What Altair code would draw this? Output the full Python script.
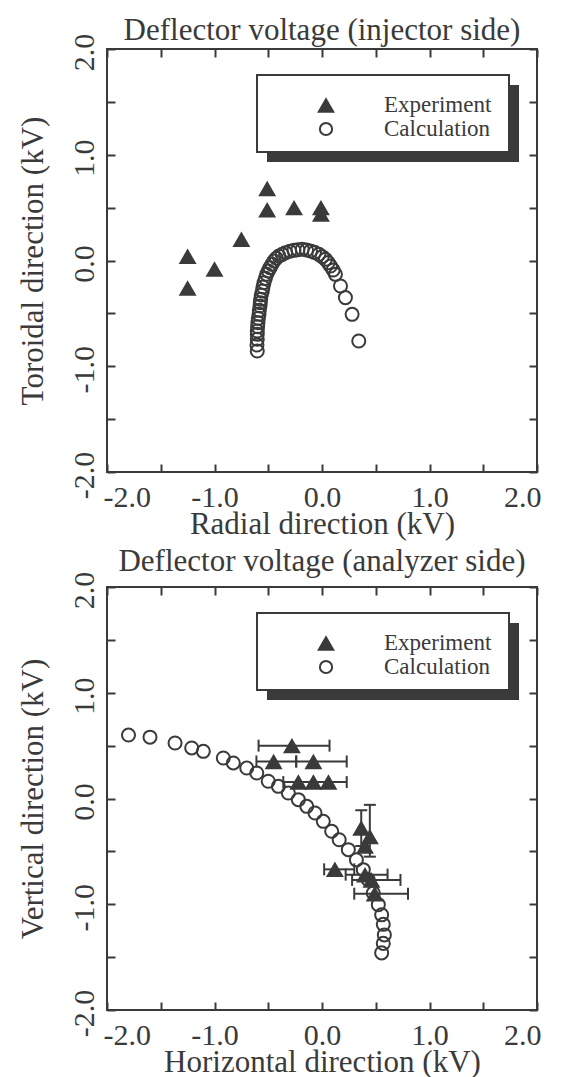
import altair as alt
import pandas as pd

FONT = "Liberation Serif"
INK = "#3a3a3a"

# ---------------- data ----------------
tick_vals = [-2.0, -1.5, -1.0, -0.5, 0.0, 0.5, 1.0, 1.5, 2.0]
legend_labels = ["Experiment", "Calculation"]

panel_titles = ["Deflector voltage (injector side)", "Deflector voltage (analyzer side)"]
x_titles = ["Radial direction (kV)", "Horizontal direction (kV)"]
y_titles = ["Toroidal direction (kV)", "Vertical direction (kV)"]

# top panel (injector side)
top_exp_x = [-1.25, -1.25, -1.00, -0.75, -0.51, -0.51, -0.26, -0.01, -0.01]
top_exp_y = [0.04, -0.26, -0.08, 0.20, 0.68, 0.48, 0.50, 0.50, 0.44]

top_calc_x = [-0.602, -0.605, -0.602, -0.602, -0.602, -0.599, -0.596, -0.592, -0.586,
              -0.583, -0.577, -0.574, -0.571, -0.565, -0.555, -0.549, -0.540, -0.527,
              -0.515, -0.500, -0.484, -0.466, -0.447, -0.425, -0.401, -0.370, -0.339,
              -0.299, -0.261, -0.224, -0.184, -0.144, -0.107, -0.070, -0.029, 0.002,
              0.032, 0.057, 0.079, 0.104, 0.125, 0.172, 0.218, 0.280, 0.342]
top_calc_y = [-0.856, -0.799, -0.745, -0.698, -0.667, -0.626, -0.588, -0.547, -0.509,
              -0.471, -0.430, -0.399, -0.367, -0.326, -0.288, -0.251, -0.210, -0.169,
              -0.131, -0.099, -0.068, -0.036, -0.005, 0.021, 0.043, 0.058, 0.074,
              0.087, 0.096, 0.102, 0.106, 0.099, 0.090, 0.077, 0.058, 0.036,
              0.011, -0.020, -0.052, -0.090, -0.131, -0.241, -0.351, -0.509, -0.761]

# bottom panel (analyzer side)
bot_exp_x = [-0.28, -0.45, -0.08, -0.22, -0.08, 0.06, 0.365, 0.445, 0.40, 0.12, 0.40, 0.46, 0.49]
bot_exp_y = [0.50, 0.35, 0.35, 0.155, 0.155, 0.155, -0.28, -0.36, -0.45, -0.67, -0.72, -0.77, -0.90]

# horizontal error bars
hbar_y = [0.50, 0.35, 0.35, 0.155, -0.67, -0.72, -0.77, -0.90]
hbar_lo = [-0.59, -0.61, -0.24, -0.36, 0.02, 0.22, 0.28, 0.30]
hbar_hi = [0.07, -0.24, 0.23, 0.23, 0.30, 0.61, 0.73, 0.80]
# vertical error bars
vbar_x = [0.365, 0.445]
vbar_lo = [-0.45, -0.55]
vbar_hi = [-0.11, -0.06]

bot_calc_x = [-1.80, -1.60, -1.367, -1.212, -1.104, -0.918, -0.825, -0.70, -0.607, -0.50,
              -0.406, -0.313, -0.22, -0.142, -0.065, 0.012, 0.09, 0.16, 0.245, 0.32,
              0.384, 0.43, 0.477, 0.524, 0.555, 0.57, 0.58, 0.57, 0.555]
bot_calc_y = [0.60, 0.58, 0.525, 0.478, 0.446, 0.383, 0.336, 0.288, 0.241, 0.163,
              0.115, 0.052, -0.011, -0.074, -0.137, -0.216, -0.31, -0.39, -0.484, -0.58,
              -0.673, -0.768, -0.894, -1.004, -1.10, -1.19, -1.29, -1.37, -1.46]

# ---------------- styling ----------------
W, H = 430, 423
LABEL_EXPR = ("abs(datum.value % 1) < 0.001 ? "
              "(datum.value < 0 ? '-' : '') + format(abs(datum.value), '.1f') : ''")


def x_main(title):
    return alt.Axis(values=tick_vals, title=title, orient="bottom", offset=-8, tickSize=8,
                    tickWidth=2, tickColor=INK, domain=False, grid=False,
                    labelExpr=LABEL_EXPR, labelFont=FONT, labelFontSize=30, labelColor=INK,
                    labelPadding=10, labelFlush=True, labelFlushOffset=4, labelOverlap=False,
                    titleFont=FONT, titleFontSize=31, titleFontWeight="normal",
                    titleColor=INK, titlePadding=-3)


def y_main(title):
    return alt.Axis(values=tick_vals, title=title, orient="left", offset=-8, tickSize=8,
                    tickWidth=2, tickColor=INK, domain=False, grid=False,
                    labelExpr=LABEL_EXPR, labelFont=FONT, labelFontSize=30, labelColor=INK,
                    labelAngle=270, labelAlign="center", labelBaseline="bottom",
                    labelPadding=8, labelFlush=True, labelFlushOffset=-8, labelOffset=3,
                    labelOverlap=False,
                    titleFont=FONT, titleFontSize=31, titleFontWeight="normal",
                    titleColor=INK, titlePadding=20)


def other_axis(orient):
    return alt.Axis(values=tick_vals, title=None, orient=orient, offset=-8, tickSize=8,
                    tickWidth=2, tickColor=INK, domain=False, grid=False, labels=False)


XS = alt.Scale(domain=[-2, 2], nice=False, zero=False)
YS = alt.Scale(domain=[-2, 2], nice=False, zero=False)

LX, LX2, LY, LY2 = 150, 402, 26, 103
SYM_X, TXT_X, ROW1, ROW2 = 219, 277, 56, 80


def legend_layers():
    base = alt.Chart(pd.DataFrame({"k": [0]}))
    shadow = base.mark_rect(color=INK).encode(
        x=alt.value(LX + 10), x2=alt.value(LX2 + 10), y=alt.value(LY + 10), y2=alt.value(LY2 + 10))
    box = base.mark_rect(fill="white", stroke=INK, strokeWidth=2).encode(
        x=alt.value(LX), x2=alt.value(LX2), y=alt.value(LY), y2=alt.value(LY2))
    tri = base.mark_point(shape="triangle-up", filled=True, size=320, color=INK, opacity=1).encode(
        x=alt.value(SYM_X), y=alt.value(ROW1))
    circ = base.mark_point(shape="circle", filled=False, size=150, color=INK, strokeWidth=2,
                           opacity=1).encode(x=alt.value(SYM_X), y=alt.value(ROW2))
    t1 = base.mark_text(text=legend_labels[0], font=FONT, fontSize=23, align="left",
                        baseline="middle", color=INK).encode(x=alt.value(TXT_X), y=alt.value(ROW1))
    t2 = base.mark_text(text=legend_labels[1], font=FONT, fontSize=23, align="left",
                        baseline="middle", color=INK).encode(x=alt.value(TXT_X), y=alt.value(ROW2))
    return [shadow, box, tri, circ, t1, t2]


def panel(i, calc_x, calc_y, exp_x, exp_y, hb=None, vb=None, title_offset=0):
    calc_df = pd.DataFrame({"x": calc_x, "y": calc_y})
    exp_df = pd.DataFrame({"x": exp_x, "y": exp_y})
    layers = []
    calc = alt.Chart(calc_df).mark_point(shape="circle", size=170, strokeWidth=2, color=INK,
                                         filled=False, opacity=1).encode(
        x=alt.X("x:Q", scale=XS, axis=x_main(x_titles[i])),
        y=alt.Y("y:Q", scale=YS, axis=y_main(y_titles[i])))
    layers.append(calc)
    if hb is not None:
        hdf = pd.DataFrame({"y": hb[0], "lo": hb[1], "hi": hb[2]})
        layers.append(alt.Chart(hdf).mark_rule(color=INK, strokeWidth=2).encode(
            x=alt.X("lo:Q", scale=XS, axis=None), x2="hi:Q",
            y=alt.Y("y:Q", scale=YS, axis=None)))
        layers.append(alt.Chart(hdf).transform_fold(["lo", "hi"], as_=["end", "v"]).mark_tick(
            orient="vertical", size=12, thickness=2, color=INK, opacity=1).encode(
            x=alt.X("v:Q", scale=XS, axis=None), y=alt.Y("y:Q", scale=YS, axis=None)))
    if vb is not None:
        vdf = pd.DataFrame({"x": vb[0], "lo": vb[1], "hi": vb[2]})
        layers.append(alt.Chart(vdf).mark_rule(color=INK, strokeWidth=2).encode(
            y=alt.Y("lo:Q", scale=YS, axis=None), y2="hi:Q",
            x=alt.X("x:Q", scale=XS, axis=None)))
        layers.append(alt.Chart(vdf).transform_fold(["lo", "hi"], as_=["end", "v"]).mark_tick(
            orient="horizontal", size=12, thickness=2, color=INK, opacity=1).encode(
            y=alt.Y("v:Q", scale=YS, axis=None), x=alt.X("x:Q", scale=XS, axis=None)))
    exp = alt.Chart(exp_df).mark_point(shape="triangle-up", size=320, filled=True, color=INK,
                                       opacity=1).encode(
        x=alt.X("x:Q", scale=XS, axis=other_axis("top")),
        y=alt.Y("y:Q", scale=YS, axis=other_axis("right")))
    layers.append(exp)
    layers += legend_layers()
    return alt.layer(*layers).resolve_axis(x="independent", y="independent").properties(
        width=W, height=H,
        title=alt.TitleParams(panel_titles[i], font=FONT, fontSize=31, fontWeight="normal",
                              color=INK, anchor="middle", offset=title_offset))


top = panel(0, top_calc_x, top_calc_y, top_exp_x, top_exp_y, title_offset=-14)
bottom = panel(1, bot_calc_x, bot_calc_y, bot_exp_x, bot_exp_y,
               hb=(hbar_y, hbar_lo, hbar_hi), vb=(vbar_x, vbar_lo, vbar_hi), title_offset=-7)

chart = alt.vconcat(top, bottom, spacing=5).configure_view(
    stroke=INK, strokeWidth=2).properties(
    padding={"left": 8, "top": 6, "right": 0, "bottom": 0}, background="white")

chart.save("out.html", embed_options={"renderer": "svg", "actions": False})
